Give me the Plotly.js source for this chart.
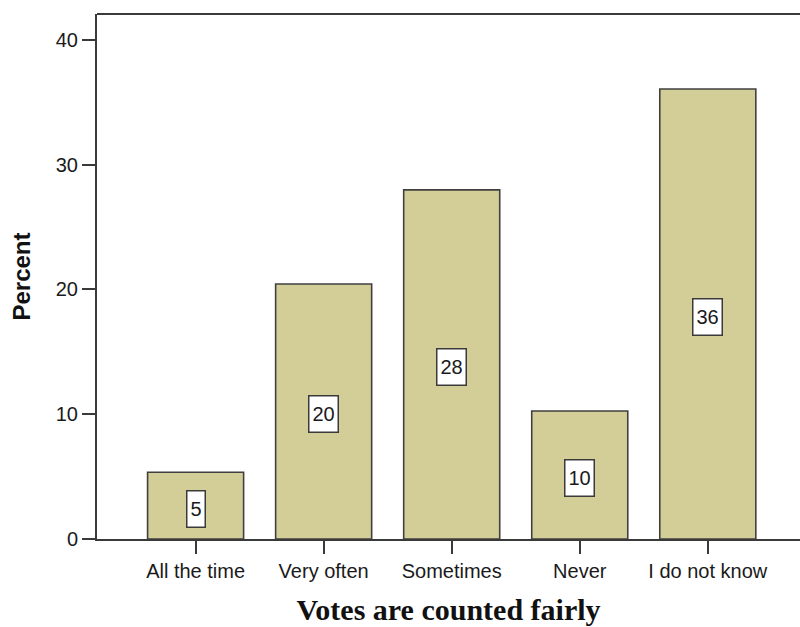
<!DOCTYPE html>
<html>
<head>
<meta charset="utf-8">
<script src="https://cdn.plot.ly/plotly-3.0.1.min.js"></script>
<style>html,body{margin:0;padding:0;background:#fff;overflow:hidden}</style>
</head>
<body>
<div id="chart" style="width:800px;height:627px"></div>
<script>
const categories = ["All the time", "Very often", "Sometimes", "Never", "I do not know"];
const percents = [5.35, 20.44, 27.98, 10.26, 36.07];
const yTicks = [0, 10, 20, 30, 40];

const barColor = "#d3ce97";
const lineColor = "#3a3a3a";

const trace = {
  type: "bar",
  x: categories,
  y: percents,
  width: 0.75,
  marker: {color: barColor, line: {color: "#404040", width: 1.6}},
  hoverinfo: "x+y"
};

const annotations = categories.map((c, i) => ({
  x: c, y: percents[i] / 2, xref: "x", yref: "y",
  text: String(Math.round(percents[i])),
  showarrow: false,
  font: {family: "Liberation Sans, Arial, sans-serif", size: 20, color: "#1a1a1a"},
  bgcolor: "#ffffff",
  bordercolor: "#3a3a3a",
  borderwidth: 1.5,
  borderpad: 3,
  height: 29,
  yshift: -3
}));

const layout = {
  width: 800, height: 627,
  margin: {l: 97, r: 0, t: 14, b: 88},
  paper_bgcolor: "#ffffff",
  plot_bgcolor: "#ffffff",
  showlegend: false,
  bargap: 0.25,
  font: {family: "Liberation Sans, Arial, sans-serif", size: 20, color: "#1a1a1a"},
  xaxis: {
    type: "category",
    range: [-0.77, 4.72],
    showline: true, linecolor: lineColor, linewidth: 2,
    ticks: "outside", ticklen: 13, tickwidth: 2, tickcolor: lineColor,
    showgrid: false, zeroline: false,
    tickfont: {size: 20, color: "#1a1a1a"},
    title: {text: "Votes are counted fairly", standoff: 18,
      font: {family: "Liberation Serif, Times New Roman, serif", size: 30, color: "#111", weight: "bold"}}
  },
  yaxis: {
    range: [0, 42.08],
    tickvals: yTicks,
    showline: true, linecolor: lineColor, linewidth: 2,
    ticks: "outside", ticklen: 13, tickwidth: 2, tickcolor: lineColor,
    showgrid: false, zeroline: false,
    tickfont: {size: 20, color: "#1a1a1a"},
    title: {text: "Percent", standoff: 18,
      font: {family: "Liberation Sans, Arial, sans-serif", size: 24, color: "#111", weight: "bold"}}
  },
  shapes: [{
    type: "line", xref: "paper", yref: "paper", x0: 0, x1: 1, y0: 1, y1: 1,
    line: {color: lineColor, width: 2}
  }],
  annotations: annotations
};

Plotly.newPlot("chart", [trace], layout, {displayModeBar: false, staticPlot: true});
</script>
</body>
</html>
